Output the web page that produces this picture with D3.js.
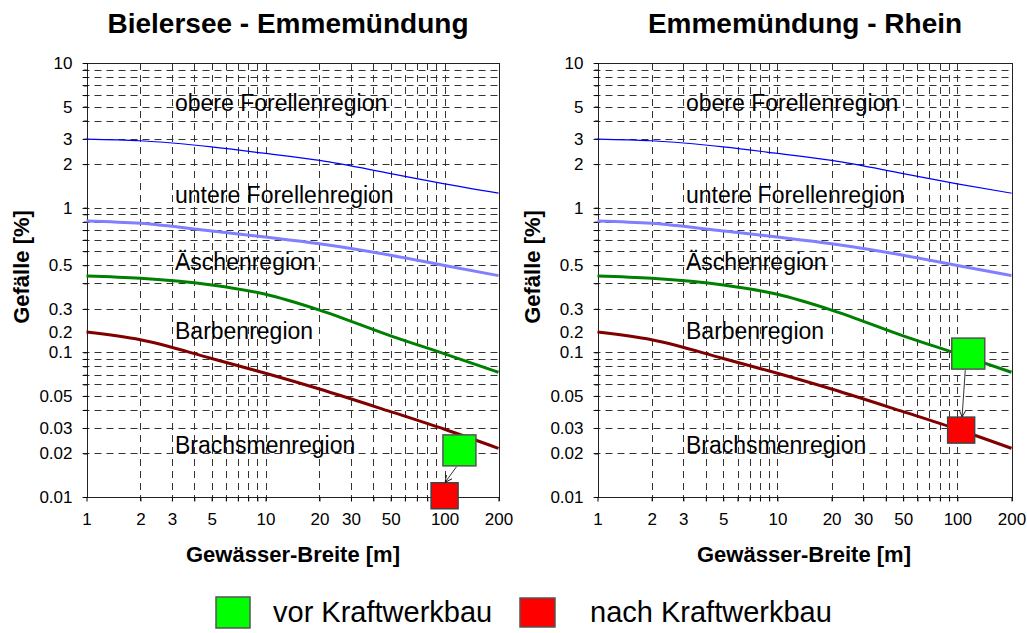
<!DOCTYPE html>
<html>
<head>
<meta charset="utf-8">
<script src="https://cdn.jsdelivr.net/npm/d3@7"></script>
<style>
body { margin: 0; background: #fff; }
svg { font-family: "Liberation Sans", Arial, Helvetica, sans-serif; }
</style>
</head>
<body>
<svg id="chart" width="1027" height="633"></svg>
<script>
// --- data ---
const panelTitles = ["Bielersee - Emmemündung", "Emmemündung - Rhein"];

// boundary curves between fish regions (Gefälle in %, over river width in m)
const widthPoints = [1, 2, 5, 10, 20, 50, 100, 200];
const obereUntere = [2.98, 2.9, 2.63, 2.37, 2.12, 1.72, 1.46, 1.26];
const untereAeschen = [0.81, 0.78, 0.69, 0.626, 0.563, 0.469, 0.398, 0.339];
const aeschenBarben = [0.337, 0.325, 0.292, 0.252, 0.196, 0.130, 0.0976, 0.0728];
const barbenBrachsmen = [0.138, 0.122, 0.0907, 0.0717, 0.0558, 0.0389, 0.0294, 0.0217];

const regionNames = ["obere Forellenregion", "untere Forellenregion", "Äschenregion", "Barbenregion", "Brachsmenregion"];

// river state before / after power plant, one per panel
const vorBreite = [121, 115];
const vorGefaelle = [0.021, 0.098];
const nachBreite = [100, 105];
const nachGefaelle = [0.0102, 0.029];

const legendLabels = ["vor Kraftwerkbau", "nach Kraftwerkbau"];

// axis ticks (labels as they sit in the original drawing)
const xTickValues = [1, 2, 3, 5, 10, 20, 30, 50, 100, 200];
const yTickAt = [10, 5, 3, 2, 1, 0.4, 0.2, 0.138, 0.1, 0.05, 0.03, 0.02, 0.01];
const yTickText = ["10", "5", "3", "2", "1", "0.5", "0.3", "0.2", "0.1", "0.05", "0.03", "0.02", "0.01"];

// --- layout ---
const svg = d3.select("#chart");
const plotTop = 63, plotBottom = 497;
const panels = [
    { left: 86.5, right: 498.5, titleX: 288, axisTitleX: 293, yTitleX: 29 },
    { left: 597.5, right: 1011.5, titleX: 805, axisTitleX: 804, yTitleX: 540 }
];
const regionLabelY = [4.66, 1.07, 0.371, 0.124, 0.0203];

const xGrid = [2, 3, 4, 5, 6, 7, 8, 9, 10, 20, 30, 40, 50, 60, 70, 80, 90, 100, 200];
const yGrid = [];
[0.01, 0.1, 1].forEach(dec => {
    for (let k = 1; k <= 9; k++) yGrid.push(+(k * dec).toPrecision(3));
});
yGrid.push(10);

const curves = [
    { values: obereUntere, color: "#0000ff", width: 1.2 },
    { values: untereAeschen, color: "#8080ff", width: 3 },
    { values: aeschenBarben, color: "#008000", width: 3 },
    { values: barbenBrachsmen, color: "#800000", width: 3 }
];

svg.append("defs").append("marker")
    .attr("id", "arrow")
    .attr("viewBox", "0 0 10 10")
    .attr("refX", 9).attr("refY", 5)
    .attr("markerWidth", 7).attr("markerHeight", 7)
    .attr("markerUnits", "userSpaceOnUse")
    .attr("orient", "auto")
    .append("path")
    .attr("d", "M0,0 L10,5 L0,10")
    .attr("fill", "none")
    .attr("stroke", "#000")
    .attr("stroke-width", 1.2);

const crisp = v => Math.round(v) + 0.5;

function drawPanel(i) {
    const p = panels[i];
    const g = svg.append("g");

    const x = d3.scaleLog().domain([1, 200]).range([p.left, p.right]);
    const y = d3.scaleLog().domain([0.01, 10]).range([plotBottom, plotTop]);

    // dashed grid
    g.selectAll(".hgrid").data(yGrid).enter().append("line")
        .attr("x1", p.left - 4).attr("x2", p.right)
        .attr("y1", d => crisp(y(d))).attr("y2", d => crisp(y(d)))
        .attr("stroke", "#333").attr("stroke-width", 1)
        .attr("stroke-dasharray", "7,5");

    g.selectAll(".vgrid").data(xGrid).enter().append("line")
        .attr("y1", plotTop).attr("y2", plotBottom + 4)
        .attr("x1", d => crisp(x(d))).attr("x2", d => crisp(x(d)))
        .attr("stroke", "#333").attr("stroke-width", 1)
        .attr("stroke-dasharray", "7,5");

    // frame
    g.append("rect")
        .attr("x", crisp(p.left)).attr("y", crisp(plotTop))
        .attr("width", Math.round(p.right - p.left)).attr("height", plotBottom - plotTop)
        .attr("fill", "none").attr("stroke", "#222").attr("stroke-width", 1);

    // tick marks at every grid line
    g.append("g")
        .attr("transform", "translate(" + crisp(p.left) + ",0)")
        .call(d3.axisLeft(y).tickValues(yGrid).tickSize(4).tickFormat(""))
        .call(s => s.select(".domain").remove());
    g.append("g")
        .attr("transform", "translate(0," + crisp(plotBottom) + ")")
        .call(d3.axisBottom(x).tickValues([1].concat(xGrid)).tickSize(4).tickFormat(""))
        .call(s => s.select(".domain").remove());

    // tick labels
    g.append("g")
        .attr("transform", "translate(" + p.left + ",0)")
        .call(d3.axisLeft(y).tickValues(yTickAt).tickSize(0).tickPadding(14)
            .tickFormat((d, j) => yTickText[j]))
        .call(s => s.select(".domain").remove())
        .selectAll("text")
        .attr("font-size", 17).attr("font-family", null).attr("fill", "#000");

    g.append("g")
        .attr("transform", "translate(0," + plotBottom + ")")
        .call(d3.axisBottom(x).tickValues(xTickValues).tickSize(0).tickPadding(16)
            .tickFormat(d3.format("d")))
        .call(s => s.select(".domain").remove())
        .selectAll("text")
        .attr("font-size", 17).attr("font-family", null).attr("fill", "#000");

    // region boundary curves
    const line = d3.line()
        .x(d => x(d[0]))
        .y(d => y(d[1]))
        .curve(d3.curveMonotoneX);

    curves.forEach(c => {
        g.append("path")
            .datum(widthPoints.map((w, k) => [w, c.values[k]]))
            .attr("d", line)
            .attr("fill", "none")
            .attr("stroke", c.color)
            .attr("stroke-width", c.width);
    });

    // region names
    g.selectAll(".region").data(regionNames).enter().append("text")
        .attr("x", p.left + 88.5)
        .attr("y", (d, k) => y(regionLabelY[k]))
        .attr("font-size", 23)
        .attr("fill", "#000")
        .text(d => d);

    // before / after markers
    const vx = x(vorBreite[i]), vy = y(vorGefaelle[i]);
    const nx = x(nachBreite[i]), ny = y(nachGefaelle[i]);
    const vw = 33, vh = 31, nw = 27, nh = 26;

    g.append("rect")
        .attr("x", vx - vw / 2).attr("y", vy - vh / 2)
        .attr("width", vw).attr("height", vh)
        .attr("fill", "#00ff00").attr("stroke", "#555").attr("stroke-width", 1.5);

    g.append("rect")
        .attr("x", nx - nw / 2).attr("y", ny - nh / 2)
        .attr("width", nw).attr("height", nh)
        .attr("fill", "#ff0000").attr("stroke", "#444").attr("stroke-width", 1.5);

    g.append("line")
        .attr("x1", vx - 3).attr("y1", vy + vh / 2 + 1)
        .attr("x2", nx + 1).attr("y2", ny - nh / 2 - 1)
        .attr("stroke", "#000").attr("stroke-width", 0.8)
        .attr("marker-end", "url(#arrow)");

    // titles
    svg.append("text")
        .attr("x", p.titleX).attr("y", 33)
        .attr("text-anchor", "middle")
        .attr("font-size", 28).attr("font-weight", "bold")
        .text(panelTitles[i]);

    svg.append("text")
        .attr("x", p.axisTitleX).attr("y", 562)
        .attr("text-anchor", "middle")
        .attr("font-size", 22).attr("font-weight", "bold")
        .text("Gewässer-Breite [m]");

    svg.append("text")
        .attr("transform", "translate(" + p.yTitleX + ",267) rotate(-90)")
        .attr("text-anchor", "middle")
        .attr("font-size", 22).attr("font-weight", "bold")
        .text("Gefälle [%]");
}

drawPanel(0);
drawPanel(1);

// legend
const legendColors = ["#00ff00", "#ff0000"];
const legendBoxX = [216, 520], legendTextX = [273, 590];
const legend = svg.append("g");
legend.selectAll("rect").data(legendLabels).enter().append("rect")
    .attr("x", (d, k) => legendBoxX[k])
    .attr("y", (d, k) => k === 0 ? 597 : 598)
    .attr("width", (d, k) => k === 0 ? 34 : 35)
    .attr("height", (d, k) => k === 0 ? 31 : 29)
    .attr("fill", (d, k) => legendColors[k])
    .attr("stroke", "#555").attr("stroke-width", 1.5);

legend.selectAll("text").data(legendLabels).enter().append("text")
    .attr("x", (d, k) => legendTextX[k])
    .attr("y", 622)
    .attr("font-size", 29)
    .attr("fill", "#000")
    .text(d => d);
</script>
</body>
</html>
